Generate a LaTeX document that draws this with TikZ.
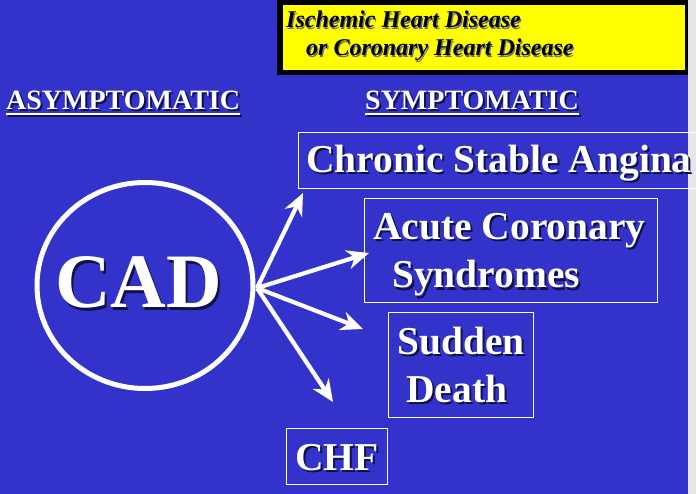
\documentclass[tikz,border=0pt]{standalone}
\usepackage{fontspec}
\setmainfont{Liberation Serif}
\usetikzlibrary{arrows.meta,shapes.geometric}
\definecolor{bgblue}{HTML}{3333CC}
\definecolor{edgegray}{HTML}{E6E6E6}
\definecolor{shadowc}{HTML}{10104A}
\definecolor{ylw}{HTML}{FFFF00}
\newcommand\shd[1]{\makebox[0pt][l]{\kern2pt\raisebox{-2pt}{\color{shadowc}#1}}#1}
\newcommand\shy[1]{\makebox[0pt][l]{\kern1.2pt\raisebox{-1.2pt}{\color{black!55}#1}}#1}
\tikzset{
  txt/.style={anchor=base west, inner sep=0pt, text=white, font=\fontsize{39.5}{47}\selectfont\bfseries},
  headtxt/.style={anchor=base west, inner sep=0pt, text=white, font=\fontsize{28}{33}\selectfont\bfseries},
  ytxt/.style={anchor=base west, inner sep=0pt, text=black, font=\fontsize{24}{28}\selectfont\bfseries\itshape},
  boxst/.style={draw=white, line width=1.4pt, anchor=north west, inner sep=0pt},
  ul/.style={white, line width=2.2pt},
  ulsh/.style={shadowc, line width=2.2pt},
  arr/.style={white, line width=4.2pt, -{Stealth[length=22pt, width=19pt, inset=7pt]}},
}
\begin{document}
\begin{tikzpicture}[x=1pt, y=-1pt]
\useasboundingbox (0,0) rectangle (696,494);
\fill[bgblue] (0,0) rectangle (688,494);
\fill[edgegray] (688,0) rectangle (696,494);
% yellow title box
\fill[black] (277,0) rectangle (688,75);
\fill[ylw] (283,5) rectangle (685,70);
\node[ytxt] (t1) at (286,28) {\shy{Ischemic Heart Disease}};
\node[ytxt] (t2) at (306,56) {\shy{or Coronary Heart Disease}};
% headings
\node[headtxt] (asym) at (6,110) {\shd{ASYMPTOMATIC}};
\node[headtxt] (sym) at (365,110) {\shd{SYMPTOMATIC}};
\draw[ulsh] ([xshift=2pt,yshift=-6pt]asym.base west) -- ([xshift=2pt,yshift=-6pt]asym.base east);
\draw[ul] ([yshift=-4pt]asym.base west) -- ([yshift=-4pt]asym.base east);
\draw[ulsh] ([xshift=2pt,yshift=-6pt]sym.base west) -- ([xshift=2pt,yshift=-6pt]sym.base east);
\draw[ul] ([yshift=-4pt]sym.base west) -- ([yshift=-4pt]sym.base east);
% CAD circle
\node[draw=white, line width=5pt, ellipse, minimum width=216pt, minimum height=206pt, inner sep=0pt] (cadc) at (145,285.5) {};
\node[anchor=base west, inner sep=0pt, text=white, font=\fontsize{77}{90}\selectfont\bfseries] (cad) at (55,308) {\shd{CAD}};
% boxes
\node[boxst, minimum width=410pt, minimum height=56pt] (csabox) at (298,132) {};
\node[txt] (csa) at (306,173) {\shd{Chronic Stable Angina}};
\node[boxst, minimum width=293pt, minimum height=104pt] (acsbox) at (364,198) {};
\node[txt] (acs1) at (373,240) {\shd{Acute Coronary}};
\node[txt] (acs2) at (392,288) {\shd{Syndromes}};
\node[boxst, minimum width=145pt, minimum height=105pt] (sdbox) at (388,312) {};
\node[txt] (sd1) at (397,354) {\shd{Sudden}};
\node[txt] (sd2) at (406,402) {\shd{Death}};
\node[boxst, minimum width=101pt, minimum height=56pt] (chfbox) at (286,428) {};
\node[txt] (chf) at (295,470) {\shd{CHF}};
% arrows
\coordinate (o) at (257,288);
\coordinate (a1) at (303,193);
\coordinate (a2) at (369,253);
\coordinate (a3) at (363,329);
\coordinate (a4) at (333,402);
\draw[arr] (o) -- (a1);
\draw[arr] (o) -- (a2);
\draw[arr] (o) -- (a3);
\draw[arr] (o) -- (a4);
\end{tikzpicture}
\end{document}
